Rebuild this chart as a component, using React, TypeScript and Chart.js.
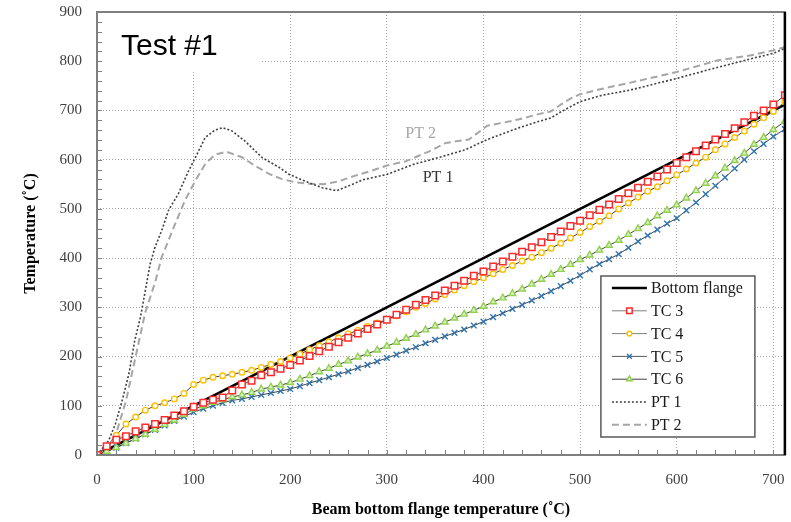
import React, { useEffect, useRef } from "react";
import { Chart, registerables } from "chart.js";

Chart.register(...registerables);

// ---------- data ----------
const SERIES_LABELS = ["Bottom flange", "TC 3", "TC 4", "TC 5", "TC 6", "PT 1", "PT 2"];

const X_TICKS = [0, 100, 200, 300, 400, 500, 600, 700];
const Y_TICKS = [0, 100, 200, 300, 400, 500, 600, 700, 800, 900];

const BOTTOM_X = [0, 712];
const BOTTOM_Y = [0, 712];

const TC_X = [
  0, 10, 20, 30, 40, 50, 60, 70, 80, 90,
  100, 110, 120, 130, 140, 150, 160, 170, 180, 190,
  200, 210, 220, 230, 240, 250, 260, 270, 280, 290,
  300, 310, 320, 330, 340, 350, 360, 370, 380, 390,
  400, 410, 420, 430, 440, 450, 460, 470, 480, 490,
  500, 510, 520, 530, 540, 550, 560, 570, 580, 590,
  600, 610, 620, 630, 640, 650, 660, 670, 680, 690,
  700, 712,
];

const TC3_Y = [
  0, 18, 31, 38, 48, 56, 63, 71, 80, 89,
  98, 106, 112, 117, 131, 143, 151, 162, 168, 175,
  183, 192, 201, 211, 220, 229, 238, 247, 256, 265,
  275, 285, 295, 305, 315, 324, 334, 344, 354, 364,
  373, 383, 393, 403, 413, 422, 432, 443, 454, 465,
  476, 487, 498, 509, 520, 532, 543, 555, 566, 580,
  593, 605, 617, 629, 641, 652, 664, 676, 689, 700,
  712, 731,
];

const TC4_Y = [
  0, 17, 40, 63, 77, 91, 100, 106, 114, 125,
  143, 152, 158, 161, 164, 168, 172, 178, 184, 190,
  197, 205, 214, 222, 230, 238, 246, 253, 261, 268,
  275, 283, 291, 300, 308, 317, 326, 335, 344, 352,
  360, 368, 377, 385, 394, 402, 411, 420, 430, 441,
  452, 464, 475, 486, 500, 512, 524, 536, 545, 557,
  569, 581, 593, 605, 620, 632, 645, 658, 672, 685,
  698, 717,
];

const TC5_Y = [
  0, 7, 15, 24, 33, 42, 51, 60, 69, 78,
  87, 94, 100, 106, 111, 114, 118, 122, 126, 130,
  134, 140, 146, 152, 158, 164, 170, 177, 183, 190,
  197, 204, 212, 219, 227, 234, 241, 248, 255, 263,
  271, 280, 288, 297, 305, 314, 323, 333, 343, 354,
  365, 377, 388, 398, 408, 421, 434, 446, 458, 470,
  481, 497, 513, 530, 547, 564, 582, 600, 617, 632,
  647, 662,
];

const TC6_Y = [
  0, 7, 15, 24, 33, 42, 52, 62, 71, 82,
  93, 100, 107, 112, 118, 122, 127, 134, 138, 142,
  147, 154, 161, 169, 176, 184, 191, 199, 206, 213,
  221, 229, 237, 245, 254, 262, 270, 278, 286, 294,
  302, 311, 319, 328, 337, 347, 357, 367, 377, 387,
  397, 406, 416, 426, 436, 448, 460, 472, 486, 497,
  508, 522, 537, 552, 567, 583, 598, 613, 631, 645,
  661, 678,
];

const PT1_X = [
  0, 12, 19, 26, 33, 39, 45, 50, 55, 60,
  67, 74, 84, 95, 102, 112, 122, 130, 140, 153,
  171, 188, 199, 217, 233, 248, 262, 275, 300, 327,
  353, 381, 404, 437, 456, 470, 480, 500, 523, 551,
  600, 643, 677, 700, 712,
];
const PT1_Y = [
  0, 29, 63, 110, 165, 232, 280, 334, 388, 422,
  456, 497, 530, 578, 605, 645, 660, 665, 658, 638,
  604, 585, 570, 555, 543, 537, 548, 559, 570, 590,
  604, 620, 641, 665, 677, 685, 697, 718, 731, 741,
  765, 788, 805, 816, 826,
];

const PT2_X = [
  0, 10, 20, 30, 40, 50, 60, 67, 81, 91,
  102, 112, 122, 134, 150, 164, 178, 191, 205, 220,
  235, 250, 268, 285, 300, 320, 344, 361, 385, 404,
  420, 437, 456, 470, 480, 490, 500, 523, 551, 600,
  643, 677, 700, 712,
];
const PT2_Y = [
  0, 12, 45, 110, 200, 290, 350, 402, 470, 517,
  558, 591, 610, 616, 605, 587, 571, 561, 554, 551,
  550, 556, 568, 578, 588, 597, 617, 634, 641, 669,
  675, 682, 692, 698, 712, 724, 733, 744, 756, 778,
  802, 812, 822, 829,
];

// ---------- helpers ----------
const SERIF = '"Liberation Serif", "Times New Roman", serif';
const toPoints = (xs: number[], ys: number[]) => xs.map((x, i) => ({ x, y: ys[i] }));

function drawMarker(
  ctx: CanvasRenderingContext2D,
  style: string,
  cx: number,
  cy: number,
  r: number,
  stroke: string,
  fill: string,
  lw: number
) {
  ctx.save();
  ctx.setLineDash([]);
  ctx.lineWidth = lw;
  ctx.strokeStyle = stroke;
  ctx.fillStyle = fill;
  ctx.beginPath();
  if (style === "rect") {
    const s = r * Math.SQRT1_2;
    ctx.rect(cx - s, cy - s, 2 * s, 2 * s);
    ctx.fill();
  } else if (style === "circle") {
    ctx.arc(cx, cy, r, 0, Math.PI * 2);
    ctx.fill();
  } else if (style === "triangle") {
    ctx.moveTo(cx, cy - r);
    ctx.lineTo(cx + r * 0.87, cy + r * 0.5);
    ctx.lineTo(cx - r * 0.87, cy + r * 0.5);
    ctx.closePath();
    ctx.fill();
  } else if (style === "crossRot") {
    const o = r * Math.SQRT1_2;
    ctx.moveTo(cx - o, cy - o);
    ctx.lineTo(cx + o, cy + o);
    ctx.moveTo(cx + o, cy - o);
    ctx.lineTo(cx - o, cy + o);
  }
  ctx.stroke();
  ctx.restore();
}

const decorPlugin = {
  id: "decor",
  beforeDatasetsDraw(chart: any) {
    const { ctx, chartArea: a } = chart;
    ctx.save();
    ctx.fillStyle = "#ffffff";
    ctx.fillRect(a.left, a.top, 163, 58);
    ctx.restore();
  },
  afterDatasetsDraw(chart: any) {
    const { ctx, chartArea: a } = chart;
    const xs = chart.scales.x;
    const ys = chart.scales.y;
    ctx.save();

    // Test label
    ctx.fillStyle = "#000";
    ctx.font = '30px "Liberation Sans", Arial, sans-serif';
    ctx.textAlign = "left";
    ctx.textBaseline = "alphabetic";
    ctx.fillText("Test #1", a.left + 24, a.top + 43);

    // curve labels
    ctx.font = `16px ${SERIF}`;
    ctx.textAlign = "center";
    ctx.textBaseline = "middle";
    ctx.fillStyle = "#a6a6a6";
    ctx.fillText("PT 2", xs.getPixelForValue(335), ys.getPixelForValue(652));
    ctx.fillStyle = "#333333";
    ctx.fillText("PT 1", xs.getPixelForValue(353), ys.getPixelForValue(563));

    // minor ticks (inside)
    ctx.strokeStyle = "#808080";
    ctx.lineWidth = 1;
    ctx.beginPath();
    for (let v = 20; v < 900; v += 20) {
      const py = Math.round(ys.getPixelForValue(v)) + 0.5;
      ctx.moveTo(a.left, py);
      ctx.lineTo(a.left + 5, py);
    }
    for (let v = 20; v <= 700; v += 20) {
      const px = Math.round(xs.getPixelForValue(v)) + 0.5;
      ctx.moveTo(px, a.bottom);
      ctx.lineTo(px, a.bottom - 5);
    }
    ctx.stroke();

    // frame
    ctx.strokeStyle = "#7f7f7f";
    ctx.lineWidth = 2;
    ctx.strokeRect(a.left, a.top, a.right - a.left, a.bottom - a.top);
    ctx.strokeStyle = "#000";
    ctx.lineWidth = 2.5;
    ctx.beginPath();
    ctx.moveTo(a.right, a.top);
    ctx.lineTo(a.right, a.bottom);
    ctx.stroke();

    // legend
    const bl = a.right - 184;
    const bt = a.bottom - 179;
    const bw = 154;
    const bh = 161;
    ctx.fillStyle = "#fff";
    ctx.fillRect(bl, bt, bw, bh);
    ctx.strokeStyle = "#595959";
    ctx.lineWidth = 1.5;
    ctx.strokeRect(bl, bt, bw, bh);
    chart.data.datasets.forEach((ds: any, i: number) => {
      const cy = bt + 12 + i * 22.8;
      ctx.save();
      ctx.strokeStyle = ds.legendLineColor || ds.borderColor;
      ctx.lineWidth = ds.borderWidth;
      ctx.setLineDash(ds.borderDash || []);
      ctx.beginPath();
      ctx.moveTo(bl + 11, cy);
      ctx.lineTo(bl + 46, cy);
      ctx.stroke();
      ctx.restore();
      if (ds.pointRadius > 0) {
        drawMarker(ctx, ds.pointStyle, bl + 28.5, cy, ds.pointRadius * 0.85, ds.pointBorderColor, ds.pointBackgroundColor, ds.pointBorderWidth);
      }
      ctx.fillStyle = "#1a1a1a";
      ctx.font = `16px ${SERIF}`;
      ctx.textAlign = "left";
      ctx.textBaseline = "middle";
      ctx.fillText(ds.label, bl + 50, cy + 1);
    });

    ctx.restore();
  },
};

export default function App() {
  const canvasRef = useRef<HTMLCanvasElement | null>(null);

  useEffect(() => {
    if (!canvasRef.current) return;
    const tcLine = "#404040";
    const chart = new Chart(canvasRef.current, {
      type: "line",
      data: {
        datasets: [
          {
            label: SERIES_LABELS[0],
            data: toPoints(BOTTOM_X, BOTTOM_Y),
            borderColor: "#000000",
            borderWidth: 2.5,
            pointRadius: 0,
            order: 7,
          },
          {
            label: SERIES_LABELS[1],
            data: toPoints(TC_X, TC3_Y),
            borderColor: tcLine,
            legendLineColor: "#7f7f7f",
            borderWidth: 1,
            pointStyle: "rect",
            pointRadius: 4.6,
            pointBorderColor: "#ff2a2a",
            pointBackgroundColor: "#ffffff",
            pointBorderWidth: 1.5,
            order: 1,
          },
          {
            label: SERIES_LABELS[2],
            data: toPoints(TC_X, TC4_Y),
            borderColor: tcLine,
            legendLineColor: "#7f7f7f",
            borderWidth: 1,
            pointStyle: "circle",
            pointRadius: 2.8,
            pointBorderColor: "#ffc000",
            pointBackgroundColor: "#ffffff",
            pointBorderWidth: 1.4,
            order: 2,
          },
          {
            label: SERIES_LABELS[3],
            data: toPoints(TC_X, TC5_Y),
            borderColor: tcLine,
            legendLineColor: "#595959",
            borderWidth: 1,
            pointStyle: "crossRot",
            pointRadius: 4,
            pointBorderColor: "#2e75b6",
            pointBackgroundColor: "#2e75b6",
            pointBorderWidth: 1.4,
            order: 4,
          },
          {
            label: SERIES_LABELS[4],
            data: toPoints(TC_X, TC6_Y),
            borderColor: tcLine,
            legendLineColor: "#404040",
            borderWidth: 1,
            pointStyle: "triangle",
            pointRadius: 3.8,
            pointBorderColor: "#92d050",
            pointBackgroundColor: "#d9efc4",
            pointBorderWidth: 1.4,
            order: 3,
          },
          {
            label: SERIES_LABELS[5],
            data: toPoints(PT1_X, PT1_Y),
            borderColor: "#404040",
            borderWidth: 1.6,
            borderDash: [2, 2],
            pointRadius: 0,
            order: 5,
          },
          {
            label: SERIES_LABELS[6],
            data: toPoints(PT2_X, PT2_Y),
            borderColor: "#a6a6a6",
            borderWidth: 2,
            borderDash: [7, 4],
            pointRadius: 0,
            order: 6,
          },
        ] as any,
      },
      options: {
        responsive: false,
        maintainAspectRatio: false,
        devicePixelRatio: 1,
        animation: false,
        events: [],
        layout: { padding: { left: 0, right: 4, top: 12, bottom: 0 } },
        elements: { line: { tension: 0 } },
        plugins: {
          legend: { display: false },
          tooltip: { enabled: false },
        },
        scales: {
          x: {
            type: "linear",
            min: 0,
            max: 712,
            afterBuildTicks: (s: any) => {
              s.ticks = X_TICKS.map((v) => ({ value: v }));
            },
            afterFit: (s: any) => {
              s.height = 67;
              s.paddingLeft = 0;
              s.paddingRight = 0;
            },
            grid: { color: "#a6a6a6", lineWidth: 1, drawTicks: false },
            border: { display: false, dash: [1, 2] },
            ticks: {
              padding: 16,
              color: "#404040",
              font: { family: SERIF, size: 15 },
              maxRotation: 0,
              autoSkip: false,
            },
            title: {
              display: true,
              text: "Beam bottom flange temperature (˚C)",
              color: "#000",
              font: { family: SERIF, size: 16, weight: "bold" },
              padding: { top: 0, bottom: 3 },
            },
          },
          y: {
            type: "linear",
            min: 0,
            max: 900,
            afterBuildTicks: (s: any) => {
              s.ticks = Y_TICKS.map((v) => ({ value: v }));
            },
            afterFit: (s: any) => {
              s.width = 97;
              s.paddingTop = 0;
              s.paddingBottom = 0;
            },
            grid: { color: "#a6a6a6", lineWidth: 1, drawTicks: false },
            border: { display: false, dash: [1, 2] },
            ticks: {
              padding: 15,
              color: "#404040",
              font: { family: SERIF, size: 15 },
            },
            title: {
              display: true,
              text: "Temperature (˚C)",
              color: "#000",
              font: { family: SERIF, size: 16, weight: "bold" },
              padding: { top: 21, bottom: 0 },
            },
          },
        },
      } as any,
      plugins: [decorPlugin],
    });
    return () => chart.destroy();
  }, []);

  return (
    <div style={{ position: "absolute", left: 0, top: 0, width: 791, height: 522, background: "#fff" }}>
      <canvas ref={canvasRef} width={791} height={522} />
    </div>
  );
}
